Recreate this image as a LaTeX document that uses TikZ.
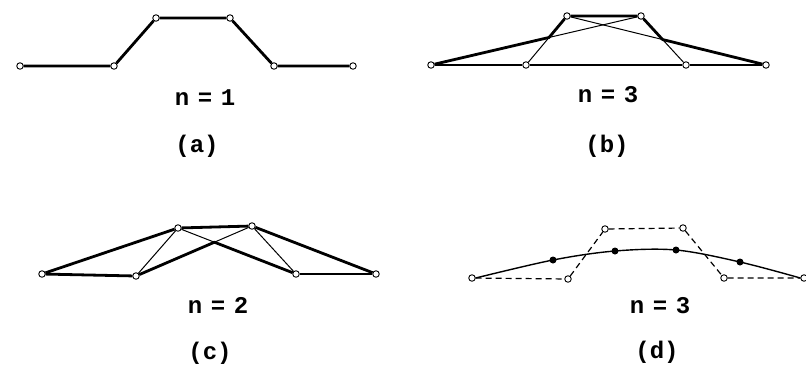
\documentclass[tikz,border=0pt]{standalone}
\usepackage{fontspec}
\newfontfamily\labfont[WordSpace=0.6]{Liberation Mono}
\begin{document}
\begin{tikzpicture}[x=1pt, y=-1pt,
    ctrl/.style={circle, draw, fill=white, line width=0.9pt, inner sep=0pt, minimum size=6.5pt},
    knot/.style={circle, fill=black, inner sep=0pt, minimum size=7pt},
    lite/.style={line width=1pt},
    heavy/.style={line width=2.8pt, line join=round},
    dash line/.style={line width=1.2pt, dash pattern=on 6pt off 4pt},
    lab/.style={font=\labfont\bfseries\fontsize{24}{28}\selectfont, inner sep=0pt}]
    \useasboundingbox (0,0) rectangle (806,365);

    % Points
    \foreach \i/\x/\y in {0/20/66, 1/114/66, 2/156/18, 3/230/18, 4/274/66, 5/353/66}
        \node[ctrl] (a\i) at (\x,\y) {};
    \foreach \i/\x/\y in {0/431/65, 1/526/65, 2/567/16, 3/641/16, 4/686/65, 5/766/65}
        \node[ctrl] (b\i) at (\x,\y) {};
    \foreach \i/\x/\y in {0/42/274, 1/136/276, 2/178/228, 3/252/226, 4/296/274, 5/376/274}
        \node[ctrl] (c\i) at (\x,\y) {};
    \foreach \i/\x/\y in {0/472/278, 1/568/279, 2/605/229, 3/683/228, 4/724/278, 5/804/278}
        \node[ctrl] (d\i) at (\x,\y) {};
    \foreach \i/\x/\y in {1/553/260, 2/615/251, 3/676/250, 4/740/262}
        \node[knot] (k\i) at (\x,\y) {};

    % (a) n = 1
    \draw[heavy] (a0) -- (a1) -- (a2) -- (a3) -- (a4) -- (a5);

    % (b) n = 3
    \coordinate (bx1) at (intersection of b0.center--b3.center and b1.center--b2.center);
    \coordinate (bx2) at (intersection of b2.center--b5.center and b3.center--b4.center);
    \draw[lite] (b0) -- (b3);
    \draw[lite] (b2) -- (b5);
    \draw[lite] (b1) -- (b2);
    \draw[lite] (b3) -- (b4);
    \draw[heavy] (b0) -- (b1) -- (b4) -- (b5);
    \draw[heavy] (b0) -- (bx1) -- (b2) -- (b3) -- (bx2) -- (b5);

    % (c) n = 2
    \coordinate (cx) at (intersection of c1.center--c3.center and c2.center--c4.center);
    \draw[lite] (c1) -- (c2);
    \draw[lite] (c3) -- (c4);
    \draw[lite] (c1) -- (c3);
    \draw[lite] (c2) -- (c4);
    \draw[heavy] (c0) -- (c1);
    \draw[heavy] (c4) -- (c5);
    \draw[heavy] (c0) -- (c2) -- (c3) -- (c5);
    \draw[heavy] (c1) -- (cx) -- (c4);

    % (d) n = 3
    \draw[dash line] (d0) -- (d1) -- (d2) -- (d3) -- (d4) -- (d5);
    \draw[line width=1.4pt] plot[smooth, tension=0.55] coordinates
        {(d0.east) (k1.center) (k2.center) (k3.center) (k4.center) (d5.west)};

    % Labels
    \node[lab] (na) at (205,98) {n = 1};
    \node[lab] (ca) at (197,146) {(a)};
    \node[lab] (nb) at (608,95) {n = 3};
    \node[lab] (cb) at (607,146) {(b)};
    \node[lab] (nc) at (218,305) {n = 2};
    \node[lab] (cc) at (210,353) {(c)};
    \node[lab] (nd) at (660,306) {n = 3};
    \node[lab] (cd) at (657,352) {(d)};
\end{tikzpicture}
\end{document}
